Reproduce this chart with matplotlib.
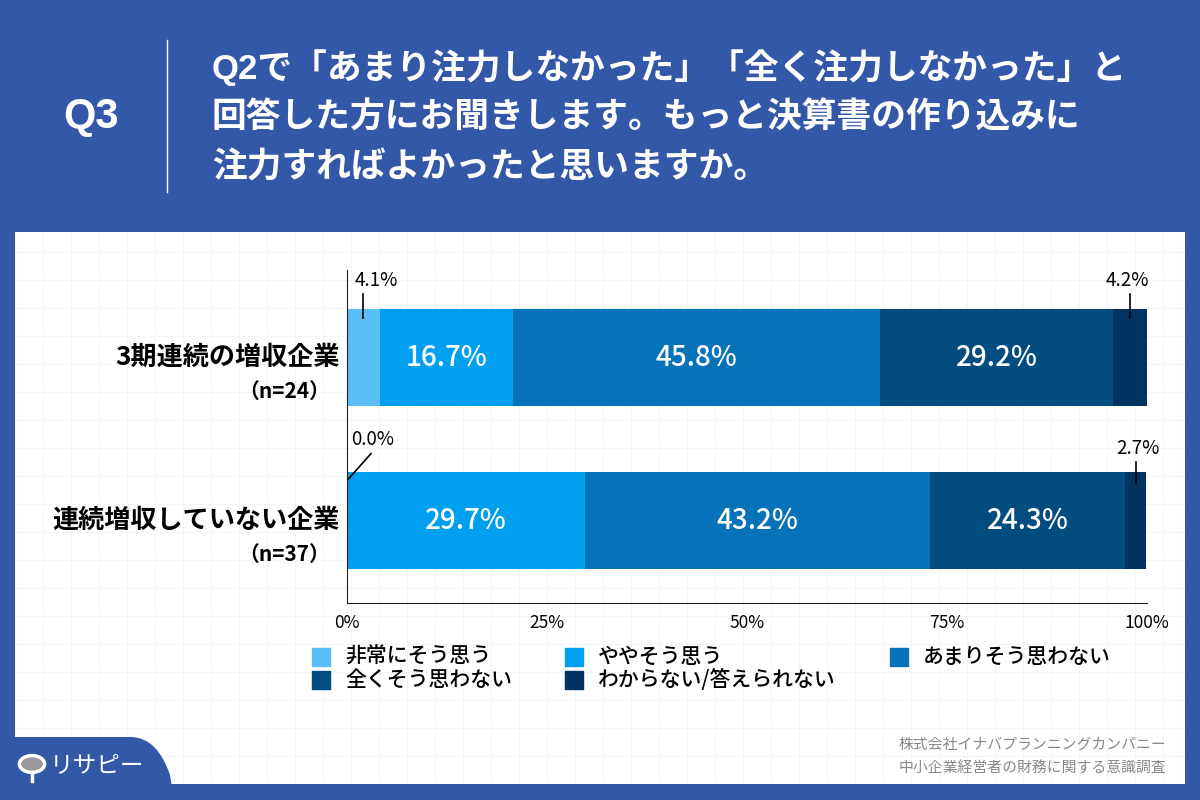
import matplotlib.pyplot as plt
import matplotlib.patches as mpatches
from matplotlib.path import Path
import numpy as np

plt.rcParams['font.family'] = ['Noto Sans CJK JP', 'DejaVu Sans']
HEAD_FONT = ['Liberation Sans', 'Noto Sans CJK JP']

# data
groups = ['3期連続の増収企業', '連続増収していない企業']
group_n = ['（n=24）', '（n=37）']
answers = ['非常にそう思う', 'ややそう思う', 'あまりそう思わない',
           '全くそう思わない', 'わからない/答えられない']
values = [
    [4.1, 16.7, 45.8, 29.2, 4.2],
    [0.0, 29.7, 43.2, 24.3, 2.7],
]
colors = ['#5bbff7', '#009ff0', '#0672b9', '#034c80', '#00335f']
xticks = [0, 25, 50, 75, 100]
question = ['Q2で「あまり注力しなかった」「全く注力しなかった」と',
            '回答した方にお聞きします。もっと決算書の作り込みに',
            '注力すればよかったと思いますか。']
source = ['株式会社イナバプランニングカンパニー', '中小企業経営者の財務に関する意識調査']

BLUE = '#3358a8'
W, H = 1200, 800


def fx(px):
    return px / W


def fy(py):
    return 1 - py / H


fig = plt.figure(figsize=(12, 8), dpi=100)
fig.patch.set_facecolor(BLUE)

# white panel with faint grid
panel = fig.add_axes([fx(15), fy(784), fx(1170), (784 - 232) / H])
panel.set_facecolor('white')
panel.set_xlim(0, 1170)
panel.set_ylim(0, 552)
for gx in np.arange(0, 1170, 28):
    panel.axvline(gx, color='#f3f5f8', lw=0.8)
for gy in np.arange(0, 552, 28):
    panel.axhline(gy, color='#f3f5f8', lw=0.8)
panel.set_xticks([])
panel.set_yticks([])
for s in panel.spines.values():
    s.set_visible(False)

# header
fig.text(fx(91), fy(117), 'Q3', color='white', fontsize=30, fontweight='bold',
         ha='center', va='center', family=HEAD_FONT)
fig.add_artist(plt.Line2D([fx(167), fx(167)], [fy(40), fy(192)], color='white', lw=1))
for i, line in enumerate(question):
    fig.text(fx(212), fy(68 + i * 50), line, color='white', fontsize=25,
             fontweight='bold', ha='left', va='center', family=HEAD_FONT)

# bar chart
ax = fig.add_axes([fx(347), fy(603), fx(800), (603 - 270) / H])
ax.patch.set_alpha(0)
ypos = np.arange(len(groups))
bar_h = 0.595
lefts = np.zeros(len(groups))
vals = np.array(values)
for j, ans in enumerate(answers):
    ax.barh(ypos, vals[:, j], left=lefts, height=bar_h, color=colors[j], label=ans)
    for i in range(len(groups)):
        v = vals[i, j]
        if v >= 10:
            ax.text(lefts[i] + v / 2, ypos[i], f'{v:.1f}%', color='white',
                    fontsize=20, ha='center', va='center', fontweight='medium')
    lefts += vals[:, j]

# small value callouts (label offset from the tick line)
top0 = 0 - bar_h / 2
top1 = 1 - bar_h / 2
ax.plot([vals[0, 0] / 2] * 2, [top0 + 0.06, top0 - 0.09], color='black', lw=1.2,
        clip_on=False)
ax.text(vals[0, 0] / 2 + 1.6, top0 - 0.11, f'{vals[0, 0]:.1f}%', fontsize=13.5,
        ha='center', va='bottom')
ax.plot([100 - vals[0, 4] / 2] * 2, [top0 + 0.06, top0 - 0.09], color='black', lw=1.2,
        clip_on=False)
ax.text(100 - vals[0, 4] / 2 - 0.3, top0 - 0.11, f'{vals[0, 4]:.1f}%', fontsize=13.5,
        ha='center', va='bottom')
ax.plot([0.1, 3.0], [top1 + 0.05, top1 - 0.11], color='black', lw=1.2, clip_on=False)
ax.text(3.2, top1 - 0.13, f'{vals[1, 0]:.1f}%', fontsize=13.5, ha='center',
        va='bottom')
ax.plot([100 - vals[1, 4] / 2] * 2, [top1 + 0.07, top1 - 0.06], color='black',
        lw=1.2, clip_on=False)
ax.text(98.9, top1 - 0.08, f'{vals[1, 4]:.1f}%', fontsize=13.5, ha='center',
        va='bottom')

ax.set_xlim(0, 100)
ax.set_ylim(1.509, -0.534)
ax.set_xticks(xticks)
ax.set_xticklabels([f'{t}%' for t in xticks], fontsize=12.5)
ax.tick_params(axis='x', length=0, pad=8)
ax.set_yticks([])
for s in ['top', 'right']:
    ax.spines[s].set_visible(False)
ax.spines['left'].set_color('#222222')
ax.spines['bottom'].set_color('#222222')

for i, g in enumerate(groups):
    yc = [357, 520][i]
    fig.text(fx(340), fy(yc), g, fontsize=18.8, fontweight='bold', ha='right',
             va='center')
    fig.text(fx(330), fy(yc + 34), group_n[i], fontsize=15, fontweight='bold',
             ha='right', va='center')

# legend
leg_pos = [(312, 657), (565, 657), (890, 657), (312, 680), (565, 680)]
for (lx, ly), ans, c in zip(leg_pos, answers, colors):
    fig.patches.append(mpatches.Rectangle((fx(lx), fy(ly + 9)), fx(18), 18 / H,
                                          transform=fig.transFigure, color=c))
    fig.text(fx(lx + 33), fy(ly), ans, fontsize=15, fontweight='medium',
             ha='left', va='center')

# source
for i, s in enumerate(source):
    fig.text(fx(1166), fy(745 + i * 23), s, fontsize=10.7, color='#888888',
             ha='right', va='center')

# logo tab
verts = [(0, 800), (0, 737), (130, 737), (150, 737), (162, 752), (170, 775),
         (174, 800), (0, 800)]
codes = [Path.MOVETO, Path.LINETO, Path.LINETO, Path.CURVE4, Path.CURVE4,
         Path.CURVE4, Path.LINETO, Path.CLOSEPOLY]
vpath = Path([(fx(x), fy(y)) for x, y in verts], codes)
fig.patches.append(mpatches.PathPatch(vpath, transform=fig.transFigure,
                                      facecolor=BLUE, edgecolor='none'))
fig.patches.append(mpatches.Circle((fx(32), fy(764)), 0.0105,
                                   transform=fig.transFigure, facecolor='#999999',
                                   edgecolor='white', lw=2.5))
fig.add_artist(plt.Line2D([fx(32), fx(32)], [fy(774), fy(781)], color='white', lw=2.5))
fig.text(fx(50), fy(766), 'リサピー', color='white', fontsize=17, ha='left',
         va='center')

fig.savefig('out.png', dpi=100, facecolor=fig.get_facecolor())
